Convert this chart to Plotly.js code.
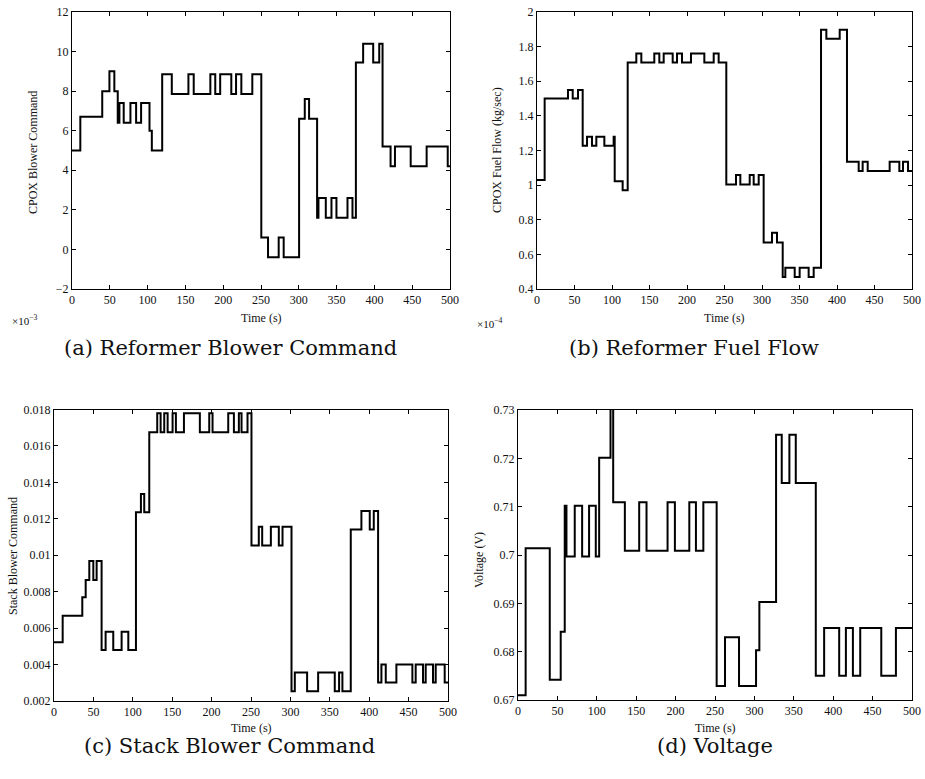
<!DOCTYPE html>
<html>
<head>
<meta charset="utf-8">
<script src="https://cdn.plot.ly/plotly-3.0.1.min.js"></script>
<style>html,body{margin:0;padding:0;background:#fff;}#chart{width:925px;height:779px;}</style>
</head>
<body>
<div id="chart"></div>
<script>
// (a) Reformer Blower Command (x1e-3): step change times and levels
const blowerTime = [0, 11, 40, 49.5, 56, 60.5, 62.7, 68.4, 77.3, 84.8, 91.4, 102.5, 105.6, 119.3, 132, 154, 161, 183, 189.5, 196, 210.7, 217, 224, 238.5, 250.4, 259.3, 273.4, 280, 300.4, 307.9, 313.6, 324.2, 326, 335.7, 343.2, 349.8, 364.4, 371, 375.5, 385.1, 398.4, 406.4, 410.8, 421.4, 427.2, 448, 469.1, 497, 500];
const blowerCmd  = [5.0, 6.7, 8.0, 9.0, 8.0, 6.4, 7.4, 6.4, 7.4, 6.4, 7.4, 6.0, 5.0, 8.85, 7.85, 8.85, 7.85, 8.85, 7.85, 8.85, 7.85, 8.85, 7.85, 8.85, 0.6, -0.4, 0.6, -0.4, 6.6, 7.6, 6.6, 1.6, 2.6, 1.6, 2.6, 1.6, 2.6, 1.6, 9.45, 10.4, 9.45, 10.4, 5.2, 4.2, 5.2, 4.2, 5.2, 4.2, 4.2];

// (b) Reformer Fuel Flow (x1e-4 kg/sec)
const fuelTime = [0, 10.2, 41.3, 47.6, 54.7, 60.9, 66.7, 73.3, 79.1, 89.8, 102.2, 103.6, 114.2, 120.9, 132.4, 139.1, 156.4, 163.1, 168.9, 180.9, 186.7, 193.3, 205.3, 223.1, 235.6, 242.2, 252.4, 265.3, 271.1, 283.6, 288.9, 295.6, 302.2, 313.3, 320, 327.6, 331.1, 343.6, 350.2, 362.2, 368.9, 378.7, 385.8, 403.6, 413.3, 428.9, 434.2, 440.9, 470.2, 483.1, 488, 494.7, 500];
const fuelFlow = [1.03, 1.5, 1.55, 1.5, 1.55, 1.227, 1.28, 1.227, 1.28, 1.227, 1.28, 1.023, 0.97, 1.708, 1.76, 1.708, 1.76, 1.708, 1.76, 1.708, 1.76, 1.708, 1.76, 1.708, 1.76, 1.708, 1.004, 1.058, 1.004, 1.058, 1.004, 1.058, 0.669, 0.725, 0.669, 0.47, 0.523, 0.47, 0.523, 0.47, 0.523, 1.898, 1.846, 1.898, 1.135, 1.081, 1.135, 1.081, 1.135, 1.081, 1.135, 1.081, 1.081];

// (c) Stack Blower Command
const stackTime = [0, 11, 35.9, 40.2, 44.8, 49.9, 54.1, 60.4, 65.5, 75.2, 85.8, 94.3, 104, 110.3, 114.5, 120.9, 131, 135.3, 139.9, 144.2, 150.5, 154.7, 164.9, 185.1, 197, 201.2, 221.1, 228.3, 234.6, 238, 245.6, 250.6, 259.9, 264.2, 275.2, 285.3, 290, 301.4, 305.6, 321.2, 335.2, 356.3, 361.8, 366, 376.6, 390.1, 400.7, 405.8, 411.3, 415.5, 421, 434.5, 454.8, 459, 468.3, 471.7, 481, 484.4, 495.8, 500];
const stackCmd  = [0.00522, 0.00668, 0.00769, 0.00864, 0.00968, 0.00864, 0.00968, 0.0048, 0.0058, 0.0048, 0.0058, 0.0048, 0.01236, 0.01336, 0.01236, 0.01675, 0.01779, 0.01675, 0.01779, 0.01675, 0.01779, 0.01675, 0.01779, 0.01675, 0.01779, 0.01675, 0.01779, 0.01675, 0.01779, 0.01675, 0.01779, 0.01053, 0.01157, 0.01053, 0.01157, 0.01053, 0.01157, 0.00254, 0.00356, 0.00254, 0.00356, 0.00254, 0.00356, 0.00254, 0.01142, 0.01243, 0.01142, 0.01243, 0.00302, 0.004, 0.00302, 0.004, 0.00302, 0.004, 0.00302, 0.004, 0.00302, 0.004, 0.00302, 0.00302];

// (d) Voltage (V)
const voltTime = [0, 9.7, 40.3, 54.2, 59.3, 61.5, 72, 81.4, 90.2, 98.7, 103, 117.4, 120.8, 135.6, 153.8, 163.1, 189.8, 199.1, 217.4, 225.8, 235.2, 252.1, 262.7, 280.5, 302.1, 306.3, 327.5, 334.7, 344.4, 352.5, 377.9, 388.5, 407.6, 416.1, 425, 434.3, 461, 479.6, 500];
const voltage  = [0.671, 0.7014, 0.6742, 0.6841, 0.7102, 0.6997, 0.7102, 0.6997, 0.7102, 0.6997, 0.7201, 0.735, 0.7109, 0.7009, 0.7109, 0.7009, 0.7109, 0.7009, 0.7109, 0.7009, 0.7109, 0.6729, 0.683, 0.6729, 0.6803, 0.6903, 0.7249, 0.7149, 0.7249, 0.7149, 0.675, 0.6849, 0.675, 0.6849, 0.675, 0.6849, 0.675, 0.6849, 0.6849];

const captions = ["(a) Reformer Blower Command", "(b) Reformer Fuel Flow", "(c) Stack Blower Command", "(d) Voltage"];
const yTitles = ["CPOX Blower Command", "CPOX Fuel Flow (kg/sec)", "Stack Blower Command", "Voltage (V)"];
const xTitle = "Time (s)";

const W = 925, H = 779;
const FONT = "Liberation Serif, DejaVu Serif, serif";
const CAPFONT = "DejaVu Serif, Liberation Serif, serif";
const px = x => x / W;
const py = y => 1 - y / H;

const line = {color: "#000", width: 2, shape: "hv"};
const traces = [
  {x: blowerTime, y: blowerCmd, xaxis: "x", yaxis: "y", mode: "lines", line: line, hoverinfo: "none"},
  {x: fuelTime, y: fuelFlow, xaxis: "x2", yaxis: "y2", mode: "lines", line: line, hoverinfo: "none"},
  {x: stackTime, y: stackCmd, xaxis: "x3", yaxis: "y3", mode: "lines", line: line, hoverinfo: "none"},
  {x: voltTime, y: voltage, xaxis: "x4", yaxis: "y4", mode: "lines", line: line, hoverinfo: "none"}
];

function ax(domain, range, dtick, anchor) {
  return {
    domain: domain, range: range, dtick: dtick, tick0: range[0], anchor: anchor,
    showline: true, mirror: "ticks", linecolor: "#000", linewidth: 1,
    ticks: "inside", ticklen: 4, tickcolor: "#000", tickwidth: 1,
    showgrid: false, zeroline: false,
    tickfont: {family: FONT, size: 12, color: "#111"}
  };
}

const boxes = [
  {x: [72, 450], y: [12, 289]},
  {x: [537, 912], y: [12, 289]},
  {x: [54, 448], y: [409.5, 701]},
  {x: [518, 912], y: [410, 700]}
];
const dom = b => ({x: [px(b.x[0]), px(b.x[1])], y: [py(b.y[1]), py(b.y[0])]});
const d = boxes.map(dom);

const layout = {
  width: W, height: H,
  margin: {l: 0, r: 0, t: 0, b: 0},
  paper_bgcolor: "#fff", plot_bgcolor: "#fff",
  showlegend: false,
  xaxis:  ax(d[0].x, [0, 500], 50, "y"),
  yaxis:  ax(d[0].y, [-2, 12], 2, "x"),
  xaxis2: ax(d[1].x, [0, 500], 50, "y2"),
  yaxis2: ax(d[1].y, [0.4, 2], 0.2, "x2"),
  xaxis3: ax(d[2].x, [0, 500], 50, "y3"),
  yaxis3: ax(d[2].y, [0.002, 0.018], 0.002, "x3"),
  xaxis4: ax(d[3].x, [0, 500], 50, "y4"),
  yaxis4: ax(d[3].y, [0.67, 0.73], 0.01, "x4"),
  annotations: []
};

const ann = (text, x, y, size, angle, xanchor, family) => ({
  text: text, x: px(x), y: py(y), xref: "paper", yref: "paper",
  showarrow: false, textangle: angle || 0, xanchor: xanchor || "center", yanchor: "middle",
  font: {family: family || FONT, size: size, color: "#111"}
});

// x titles
layout.annotations.push(ann(xTitle, 261, 318, 12));
layout.annotations.push(ann(xTitle, 724, 318, 12));
layout.annotations.push(ann(xTitle, 251, 728, 12));
layout.annotations.push(ann(xTitle, 715, 728, 12));
// y titles
layout.annotations.push(ann(yTitles[0], 33, 153, 12, -90));
layout.annotations.push(ann(yTitles[1], 497, 150, 12, -90));
layout.annotations.push(ann(yTitles[2], 13, 556, 12, -90));
layout.annotations.push(ann(yTitles[3], 479, 560, 12, -90));
// exponent labels
layout.annotations.push(ann("×10<sup>−3</sup>", 10, 320, 11, 0, "left"));
layout.annotations.push(ann("×10<sup>−4</sup>", 475, 323, 11, 0, "left"));
// captions
layout.annotations.push(ann(captions[0], 230, 348, 21, 0, "center", CAPFONT));
layout.annotations.push(ann(captions[1], 694, 348, 21, 0, "center", CAPFONT));
layout.annotations.push(ann(captions[2], 229, 746, 21, 0, "center", CAPFONT));
layout.annotations.push(ann(captions[3], 715, 746, 21, 0, "center", CAPFONT));

Plotly.newPlot("chart", traces, layout, {staticPlot: true, displayModeBar: false});
</script>
</body>
</html>
